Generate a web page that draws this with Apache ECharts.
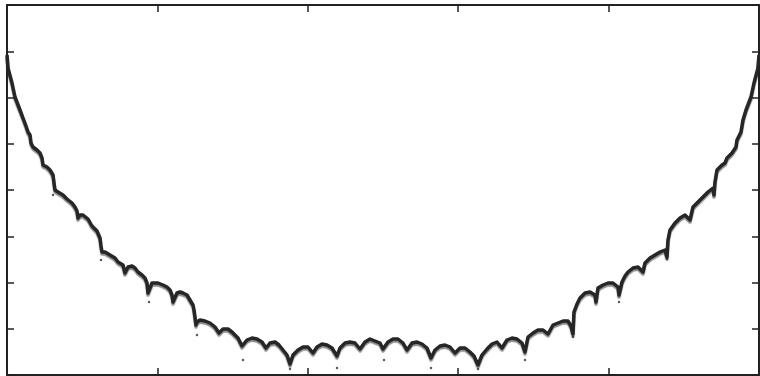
<!DOCTYPE html>
<html>
<head>
<meta charset="utf-8">
<script src="https://cdn.jsdelivr.net/npm/echarts@6/dist/echarts.min.js"></script>
<style>
  html, body { margin: 0; background: #fff; }
  #chart { width: 760px; height: 376px; }
</style>
</head>
<body>
<div id="chart"></div>
<script>
// curve, left to right
const curveX = [0, 1, 5, 8, 13, 16, 19, 21, 23, 24, 26, 30, 33, 35, 36, 40, 43, 46, 47, 48,
  51, 56, 60, 65, 68, 70, 71, 73, 76, 81, 85, 90, 93, 94, 95, 98, 103, 108, 111, 116,
  118, 121, 125, 128, 131, 135, 138, 140, 141, 145, 148, 151, 156, 160, 163, 165, 166, 170, 173, 176,
  180, 183, 186, 187, 189, 190, 193, 198, 203, 208, 212, 216, 221, 225, 228, 231, 235, 240, 245, 250,
  255, 259, 263, 268, 272, 276, 280, 283, 286, 291, 296, 301, 306, 310, 315, 320, 325, 330, 333, 338,
  343, 348, 353, 358, 363, 368, 373, 376, 381, 386, 391, 396, 400, 405, 410, 415, 420, 424, 428, 433,
  438, 443, 448, 453, 458, 463, 467, 471, 475, 480, 485, 490, 495, 500, 505, 510, 515, 518, 521, 526,
  531, 536, 541, 546, 551, 556, 561, 564, 566, 567, 570, 573, 578, 583, 588, 589, 591, 596, 601, 606,
  611, 612, 615, 618, 621, 626, 631, 636, 638, 643, 648, 653, 658, 660, 661, 663, 668, 673, 678, 683,
  686, 691, 696, 701, 706, 707, 708, 710, 715, 718, 720, 725, 729, 730, 734, 736, 739, 744, 747, 751, 752];
const curveY = [320, 307, 292, 278, 265, 257, 249, 243, 240, 232, 228, 225, 222, 217, 210, 208, 205, 200, 192, 185,
  183, 180, 176, 172, 168, 164, 157, 160, 160, 156, 149, 144, 137, 129, 123, 123, 120, 117, 113, 110,
  102, 108, 109, 107, 103, 100, 97, 92, 82, 92, 92, 92, 90, 88, 85, 80, 73, 82, 83, 82,
  80, 75, 70, 65, 50, 53, 55, 54, 52, 48, 42, 46, 46, 43, 40, 37, 29, 35, 37, 36,
  33, 27, 32, 33, 30, 25, 20, 11, 20, 25, 28, 28, 22, 28, 31, 30, 27, 19, 27, 32,
  33, 32, 26, 33, 36, 34, 32, 26, 33, 36, 36, 32, 25, 32, 33, 31, 27, 17, 25, 29,
  30, 28, 22, 27, 27, 23, 19, 10, 20, 26, 31, 33, 27, 35, 37, 36, 32, 23, 38, 42,
  45, 45, 41, 50, 52, 54, 54, 49, 41, 63, 71, 77, 82, 83, 80, 73, 87, 90, 92, 92,
  88, 80, 93, 99, 103, 107, 108, 103, 112, 117, 120, 123, 125, 118, 135, 145, 152, 157, 160, 155,
  168, 173, 178, 183, 187, 180, 193, 205, 210, 212, 217, 222, 228, 235, 243, 255, 265, 278, 292, 307, 320];

// loose dots under the cusps
const strayX = [46, 94, 142, 190, 236, 283, 330, 377, 424, 471, 518, 566, 612, 660];
const strayY = [180, 115, 73, 40, 15, 6, 7, 15, 7, 6, 15, 38, 73, 116];

const xMax = 752;
const yMax = 370;
const xStep = 150.4;
const yStep = 46.25;

const ink = '#222';

const curve = curveX.map((x, i) => [x, curveY[i]]);
const strays = strayX.map((x, i) => [x, strayY[i]]);

const axisBase = {
  type: 'value',
  axisLabel: { show: false },
  splitLine: { show: false },
  axisLine: { onZero: false, lineStyle: { color: ink, width: 2 } },
  axisTick: { inside: true, length: 7, lineStyle: { color: ink, width: 1.5 } },
};

const chart = echarts.init(document.getElementById('chart'));
chart.setOption({
  animation: false,
  grid: { left: 7, right: 1, top: 5, bottom: 1 },
  xAxis: [
    { ...axisBase, position: 'bottom', min: 0, max: xMax, interval: xStep },
    { ...axisBase, position: 'top', min: 0, max: xMax, interval: xStep },
  ],
  yAxis: [
    { ...axisBase, position: 'left', min: 0, max: yMax, interval: yStep },
    { ...axisBase, position: 'right', min: 0, max: yMax, interval: yStep },
  ],
  series: [
    {
      type: 'line',
      data: curve,
      showSymbol: false,
      lineStyle: {
        color: '#262626',
        width: 3.5,
        join: 'round',
        // dots hang a little below the top edge of the band
        shadowColor: 'rgba(40,40,40,0.55)',
        shadowOffsetY: 2,
        shadowBlur: 1,
      },
    },
    {
      type: 'scatter',
      data: strays,
      symbolSize: 2.5,
      itemStyle: { color: '#333' },
    },
  ],
});
</script>
</body>
</html>
